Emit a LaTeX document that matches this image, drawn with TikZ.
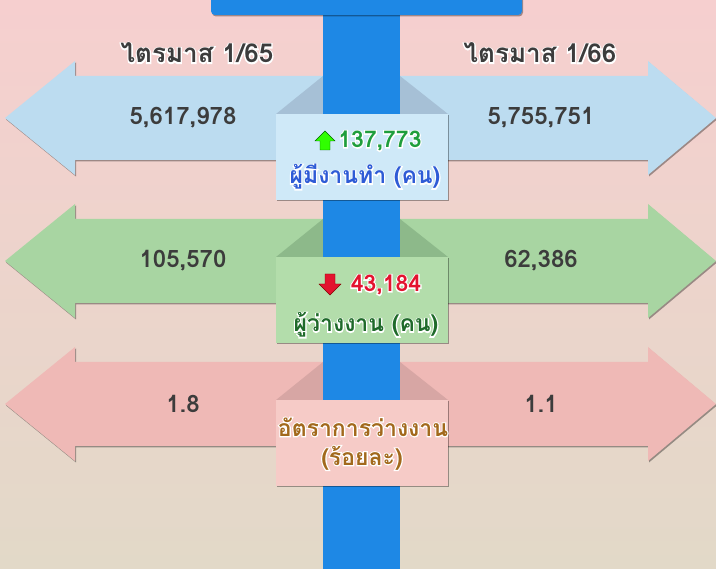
\documentclass[tikz,border=0pt]{standalone}
\usepackage{fontspec}
\newfontfamily\thai[Script=Thai]{Loma}
\newfontfamily\thaiglow[Script=Thai, FakeBold=10]{Loma}
\usetikzlibrary{calc, positioning, shadows}
\definecolor{bgtop}{HTML}{F6CFCF}
\definecolor{bgbot}{HTML}{E2D9C8}
\definecolor{bar}{HTML}{1E88E5}
\definecolor{arrA}{HTML}{BCDCF0}
\definecolor{boxA}{HTML}{CFE9F8}
\definecolor{foldA}{HTML}{A6C0D6}
\definecolor{arrB}{HTML}{A8D5A2}
\definecolor{boxB}{HTML}{B3DDAB}
\definecolor{foldB}{HTML}{8DB98A}
\definecolor{arrC}{HTML}{EFB9B6}
\definecolor{boxC}{HTML}{F6CBC7}
\definecolor{foldC}{HTML}{D7A6A4}
\definecolor{numgray}{HTML}{3C3C3C}
\definecolor{upgreen}{HTML}{1F9E3C}
\definecolor{downred}{HTML}{E3132F}
\definecolor{txtblue}{HTML}{2E5BD6}
\definecolor{txtgreen}{HTML}{1F6A2A}
\definecolor{txtbrown}{HTML}{A2691C}
\tikzset{sh/.style = {drop shadow={shadow xshift=1pt, shadow yshift=-1.5pt, opacity=0.35, fill=black}}}
\tikzset{num/.style = {font=\thai\bfseries\fontsize{24}{26}\selectfont, text=numgray}}
\tikzset{head/.style = {font=\thai\bfseries\fontsize{26}{28}\selectfont, inner sep=0pt}}
\tikzset{lbl/.style = {font=\thai\bfseries\fontsize{23}{25}\selectfont, inner sep=0pt}}
\tikzset{box/.style = {sh, minimum width=172pt, minimum height=86pt, inner sep=0pt}}
% white halo under the text: colour, text
\newcommand{\halo}[2]{\rlap{\thaiglow\color{white}#2}\textcolor{#1}{#2}}

\begin{document}
\begin{tikzpicture}[x=1pt, y=-1pt]
  \useasboundingbox (0,0) rectangle (716,569);
  \shade[top color=bgtop, bottom color=bgbot] (0,0) rectangle (716,569);

  % double arrows with the two quarters
  \foreach \c/\n/\l/\r in {118/A/{5,617,978}/{5,755,751}, 261/B/{105,570}/{62,386}, 404/C/{1.8}/{1.1}}
  {
    \fill[sh, arr\n] (5,\c) -- (75,\c-57) -- (75,\c-42) -- (648,\c-42) -- (648,\c-57)
      -- (716,\c) -- (648,\c+57) -- (648,\c+42) -- (75,\c+42) -- (75,\c+57) -- cycle;
    \node[num] (l\n) at (183,\c) {\l};
    \node[num] (r\n) at (541,\c) {\r};
    \fill[fold\n] (323,\c-42) -- (400,\c-42) -- (448,\c-4) -- (276,\c-4) -- cycle;
  }
  \node[head] (q65) at (197,53) {\halo{numgray}{ไตรมาส 1/65}};
  \node[head] (q66) at (540,53) {\halo{numgray}{ไตรมาส 1/66}};

  \fill[bar] (323,10) rectangle (400,569);
  \fill[bar, sh, rounded corners=4pt] (211,-10) rectangle (522,15);

  \foreach \c/\n in {118/A, 261/B, 404/C}
  {
    \node[box, fill=box\n] (box\n) at (362,\c+39) {};
  }

  % employed
  \fill[green!75!lime, draw=green!40!black, line width=0.4pt] (325,131) -- (335,141) -- (330,141)
    -- (330,150) -- (320,150) -- (320,141) -- (315,141) -- cycle;
  \node[lbl] (dA) at (380,141) {\halo{upgreen}{137,773}};
  \node[lbl] (tA) at (365,177) {\halo{txtblue}{ผู้มีงานทำ (คน)}};
  % unemployed
  \fill[downred, draw=red!50!black, line width=0.4pt] (330,295) -- (341,284) -- (335,284)
    -- (335,274) -- (325,274) -- (325,284) -- (319,284) -- cycle;
  \node[lbl] (dB) at (386,285) {\halo{downred}{43,184}};
  \node[lbl] (tB) at (366,325) {\halo{txtgreen}{ผู้ว่างงาน (คน)}};
  % rate
  \node[lbl] (tC) at (363,427) {\halo{txtbrown}{อัตราการว่างงาน}};
  \node[lbl] (uC) at (362,458) {\halo{txtbrown}{(ร้อยละ)}};
\end{tikzpicture}
\end{document}
